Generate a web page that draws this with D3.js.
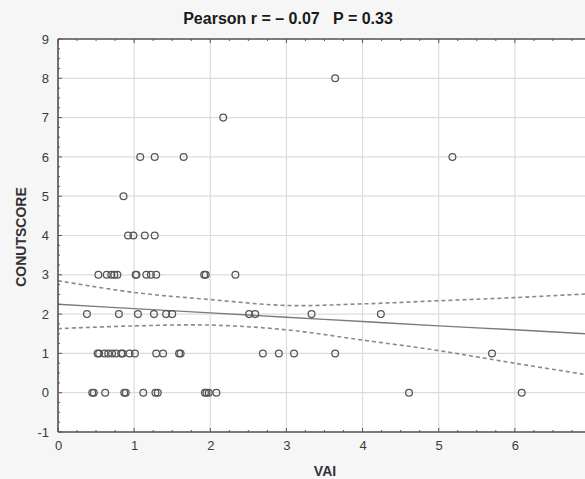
<!DOCTYPE html>
<html>
<head>
<meta charset="utf-8">
<script src="https://cdn.jsdelivr.net/npm/d3@7/dist/d3.min.js"></script>
<style>
  html, body { margin: 0; padding: 0; background: #f6f6f6; }
  svg { display: block; font-family: "Liberation Sans", Arial, sans-serif; }
</style>
</head>
<body>
<svg id="chart" width="585" height="479"></svg>
<script>
// VAI (x) and CONUT score (y) for each subject
const vai = [
  3.64,
  2.17,
  1.08, 1.27, 1.65, 5.18,
  0.86,
  0.92, 0.99, 1.14, 1.27,
  0.53, 0.64, 0.70, 0.74, 0.78, 1.02, 1.03, 1.16, 1.22, 1.29, 1.92, 1.94, 2.33,
  0.38, 0.80, 1.05, 1.26, 1.42, 1.50, 2.51, 2.59, 3.33, 4.24,
  0.52, 0.54, 0.61, 0.66, 0.71, 0.76, 0.83, 0.85, 0.94, 1.01, 1.29, 1.38, 1.59, 1.61, 2.69, 2.90, 3.10, 3.64, 5.70,
  0.45, 0.47, 0.62, 0.87, 0.89, 1.12, 1.28, 1.31, 1.93, 1.95, 1.98, 2.08, 4.61, 6.09
];
const conut = [
  8,
  7,
  6, 6, 6, 6,
  5,
  4, 4, 4, 4,
  3, 3, 3, 3, 3, 3, 3, 3, 3, 3, 3, 3, 3,
  2, 2, 2, 2, 2, 2, 2, 2, 2, 2,
  1, 1, 1, 1, 1, 1, 1, 1, 1, 1, 1, 1, 1, 1, 1, 1, 1, 1, 1,
  0, 0, 0, 0, 0, 0, 0, 0, 0, 0, 0, 0, 0, 0
];

// fitted regression line and its 95% confidence limits
const fitX     = [0,    1,    2,    3,    4,    5,    6,    7];
const fitY     = [2.25, 2.14, 2.03, 1.92, 1.81, 1.70, 1.60, 1.49];
const fitUpper = [2.85, 2.55, 2.37, 2.22, 2.26, 2.34, 2.42, 2.52];
const fitLower = [1.63, 1.70, 1.72, 1.60, 1.34, 1.07, 0.75, 0.44];

const xTicks = [0, 1, 2, 3, 4, 5, 6];
const xGrid = [0, 1, 2, 3, 4, 5, 6, 7];
const yTicks = [-1, 0, 1, 2, 3, 4, 5, 6, 7, 8, 9];
const titleText = "Pearson r = \u2013 0.07   P = 0.33";

const svg = d3.select("#chart");
const plotL = 58, plotT = 39, plotB = 432, plotR = 591;

const x = d3.scaleLinear().domain([0, 7]).range([plotL, plotR]);
const y = d3.scaleLinear().domain([-1, 9]).range([plotB, plotT]);

// plot area
svg.append("rect").attr("x", plotL).attr("y", plotT)
  .attr("width", plotR - plotL).attr("height", plotB - plotT).attr("fill", "#ffffff");

// grid
const grid = svg.append("g").attr("stroke", "#dcdcdc").attr("stroke-width", 1.2);
xGrid.forEach(t => grid.append("line")
  .attr("x1", x(t)).attr("x2", x(t)).attr("y1", plotT).attr("y2", plotB));
yTicks.forEach(t => grid.append("line")
  .attr("x1", plotL).attr("x2", plotR).attr("y1", y(t)).attr("y2", y(t)));

// regression line and dashed confidence limits
const fitLine = d3.line().x(d => x(d[0])).y(d => y(d[1])).curve(d3.curveCatmullRom.alpha(0.5));
svg.append("path")
  .attr("d", fitLine(fitX.map((v, i) => [v, fitY[i]])))
  .attr("fill", "none").attr("stroke", "#7a7a7a").attr("stroke-width", 1.4);
[fitUpper, fitLower].forEach(arr => svg.append("path")
  .attr("d", fitLine(fitX.map((v, i) => [v, arr[i]])))
  .attr("fill", "none").attr("stroke", "#8a8a8a").attr("stroke-width", 1.6)
  .attr("stroke-dasharray", "4,3"));

// points
svg.append("g").selectAll("circle").data(vai).join("circle")
  .attr("cx", (d) => x(d)).attr("cy", (d, i) => y(conut[i]))
  .attr("r", 3.4).attr("fill", "none").attr("stroke", "#555").attr("stroke-width", 1.25);

// axes
const axisColor = "#555";
const plainNum = d => String(d);
const xAxis = d3.axisBottom(x).tickValues(xTicks).tickSize(0).tickPadding(9).tickFormat(plainNum);
const gx = svg.append("g").attr("transform", `translate(0,${plotB})`).call(xAxis);
const yAxis = d3.axisLeft(y).tickValues(yTicks).tickSize(0).tickPadding(9).tickFormat(plainNum);
const gy = svg.append("g").attr("transform", `translate(${plotL},0)`).call(yAxis);
[gx, gy].forEach(g => {
  g.select(".domain").remove();
  g.selectAll("text").attr("fill", "#3a3a3a").attr("font-size", 13);
});

// frame lines
const frame = svg.append("g").attr("stroke", axisColor).attr("stroke-width", 1.6);
frame.append("line").attr("x1", plotL).attr("x2", plotR).attr("y1", plotB).attr("y2", plotB);
frame.append("line").attr("x1", plotL).attr("x2", plotL).attr("y1", plotT).attr("y2", plotB);
frame.append("line").attr("x1", plotL).attr("x2", plotR).attr("y1", plotT).attr("y2", plotT);

// inward ticks, majors and quarter minors
const tk = svg.append("g").attr("stroke", axisColor).attr("stroke-width", 1);
d3.range(0, 7.001, 0.25).forEach(v => {
  const L = Number.isInteger(v) ? 4 : 2;
  tk.append("line").attr("x1", x(v)).attr("x2", x(v)).attr("y1", plotB).attr("y2", plotB - L);
  tk.append("line").attr("x1", x(v)).attr("x2", x(v)).attr("y1", plotT).attr("y2", plotT + L);
});
d3.range(-1, 9.001, 0.25).forEach(v => {
  const L = Number.isInteger(v) ? 4 : 2;
  tk.append("line").attr("x1", plotL).attr("x2", plotL + L).attr("y1", y(v)).attr("y2", y(v));
});

// titles
svg.append("text").attr("x", 288).attr("y", 24).attr("text-anchor", "middle")
  .attr("font-size", 16).attr("font-weight", "bold").attr("fill", "#1a1a1a")
  .style("white-space", "pre").text(titleText);
svg.append("text").attr("x", 325).attr("y", 476).attr("text-anchor", "middle")
  .attr("font-size", 14).attr("font-weight", "bold").attr("fill", "#333").text("VAI");
svg.append("text").attr("transform", "translate(26,237) rotate(-90)").attr("text-anchor", "middle")
  .attr("font-size", 14).attr("font-weight", "bold").attr("fill", "#333").text("CONUTSCORE");
</script>
</body>
</html>
